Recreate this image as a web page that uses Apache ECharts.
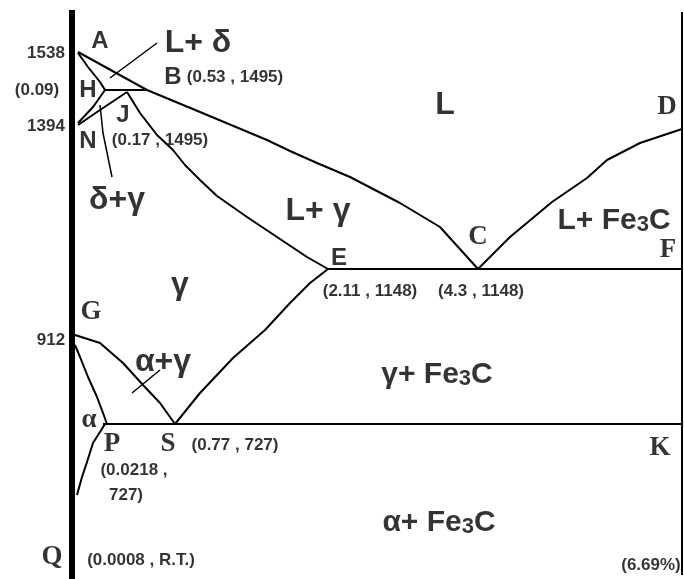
<!DOCTYPE html>
<html>
<head>
<meta charset="utf-8">
<script src="https://cdn.jsdelivr.net/npm/echarts@6/dist/echarts.min.js"></script>
<style>
    html, body { margin: 0; padding: 0; background: #fff; }
    #main { width: 684px; height: 579px; }
</style>
</head>
<body>
<div id="main"></div>
<script>
// schematic Fe-Fe3C diagram, points in diagram units
// (x grows to the right, y grows downwards)
var leftAxis = [[72, 10], [72, 579]];
var rightAxis = [[682, 12], [682, 575]];

var lineAB = [[78, 52], [147, 90]];
var lineBC = [[147, 90], [200, 112], [267, 140], [290, 151], [317, 163], [350, 177], [400, 203], [440, 227], [478, 269]];
var lineCD = [[478, 269], [510, 237], [552, 202], [587, 178], [607, 160], [640, 143], [682, 129]];
var lineAH = [[78, 53], [88, 67], [100, 82], [105, 90]];
var lineHB = [[105, 90], [147, 90]];
var lineHN = [[105, 90], [93, 107], [78, 123]];
var lineJN = [[127, 92], [100, 110], [78, 125]];
var lineJE = [[127, 92], [140, 113], [157, 135], [173, 150], [185, 165], [200, 180], [217, 196], [247, 217], [277, 237], [307, 257], [328, 269]];
var lineECF = [[328, 269], [682, 269]];
var lineGS = [[75, 335], [100, 343], [123, 363], [143, 385], [160, 403], [175, 424]];
var lineGP = [[75, 345], [80, 357], [88, 377], [97, 397], [103, 413], [107, 424]];
var linePQ = [[105, 424], [93, 443], [87, 462], [82, 477], [77, 495]];
var linePSK = [[103, 424], [682, 424]];
var lineSE = [[175, 424], [200, 393], [233, 358], [265, 330], [290, 303], [310, 283], [328, 269]];

var leaderLd = [[110, 78], [157, 43]];
var leaderDg = [[100, 105], [103, 133], [112, 177]];
var leaderAg = [[132, 393], [160, 370]];

// point letters
var sansLetters = [[100, 41, 'A'], [173, 77, 'B'], [88, 90, 'H'], [123, 115, 'J'], [88, 141, 'N'], [339, 258, 'E']];
var serifLetters = [[478, 237, 'C'], [667, 107, 'D'], [668, 250, 'F'], [91, 312, 'G'], [660, 448, 'K'],
    [112, 444, 'P'], [168, 444, 'S'], [52, 557, 'Q'], [89, 420, 'α']];

// temperatures and compositions
var valueLabels = [[46, 53, '1538'], [37, 90, '(0.09)'], [46, 126, '1394'], [51, 340, '912'],
    [235, 77, '(0.53 , 1495)'], [160, 140, '(0.17 , 1495)'], [370, 291, '(2.11 , 1148)'],
    [481, 291, '(4.3 , 1148)'], [235, 445, '(0.77 , 727)'], [134, 470, '(0.0218 ,'],
    [126, 495, '727)'], [141, 560, '(0.0008 , R.T.)'], [651, 565, '(6.69%)']];

// phase fields
var phaseLabels = [[198, 43, 'L+ δ'], [445, 105, 'L'], [117, 200, 'δ+γ'], [318, 211, 'L+ γ'],
    [180, 285, 'γ'], [163, 362, 'α+γ']];
var carbideLabels = [[614, 220, 'L+ '], [437, 374, 'γ+ '], [439, 522, 'α+ ']];

function lineSeries(data, width) {
    return {
        type: 'line',
        data: data,
        symbol: 'none',
        silent: true,
        lineStyle: { color: '#000', width: width || 2 }
    };
}

function textSeries(data, style) {
    return {
        type: 'scatter',
        data: data,
        symbolSize: 1,
        itemStyle: { color: 'rgba(0,0,0,0)' },
        silent: true,
        label: Object.assign({
            show: true,
            position: 'inside',
            color: '#000',
            fontWeight: 'bold',
            formatter: function (p) {
                return p.value[2];
            }
        }, style)
    };
}

function draw() {
    var myChart = echarts.init(document.getElementById('main'));
    var sans = 'Liberation Sans, Arial, sans-serif';
    var serif = 'Liberation Serif, Times New Roman, serif';
    var option = {
        animation: false,
        grid: { left: 0, right: 0, top: 0, bottom: 0 },
        xAxis: { type: 'value', min: 0, max: 684, show: false },
        yAxis: { type: 'value', min: 0, max: 579, inverse: true, show: false },
        series: [
            lineSeries(leftAxis, 6),
            lineSeries(rightAxis, 2),
            lineSeries(lineAB), lineSeries(lineBC), lineSeries(lineCD),
            lineSeries(lineAH), lineSeries(lineHB), lineSeries(lineHN),
            lineSeries(lineJN), lineSeries(lineJE), lineSeries(lineECF),
            lineSeries(lineGS), lineSeries(lineGP), lineSeries(linePQ),
            lineSeries(linePSK), lineSeries(lineSE),
            lineSeries(leaderLd, 1.5), lineSeries(leaderDg, 1.5), lineSeries(leaderAg, 1.5),
            textSeries(sansLetters, { fontFamily: sans, fontSize: 24 }),
            textSeries(serifLetters, { fontFamily: serif, fontSize: 27 }),
            textSeries(valueLabels, { fontFamily: sans, fontSize: 17 }),
            textSeries(phaseLabels, { fontFamily: sans, fontSize: 32 }),
            textSeries(carbideLabels, {
                fontFamily: sans,
                fontSize: 30,
                formatter: function (p) {
                    return '{t|' + p.value[2] + 'Fe}{s|3}{t|C}';
                },
                rich: {
                    t: { fontFamily: sans, fontSize: 30, fontWeight: 'bold', color: '#000', verticalAlign: 'bottom', lineHeight: 32 },
                    s: { fontFamily: sans, fontSize: 22, fontWeight: 'bold', color: '#000', verticalAlign: 'bottom', lineHeight: 32 }
                }
            })
        ]
    };
    myChart.setOption(option);
}
draw();
</script>
</body>
</html>
